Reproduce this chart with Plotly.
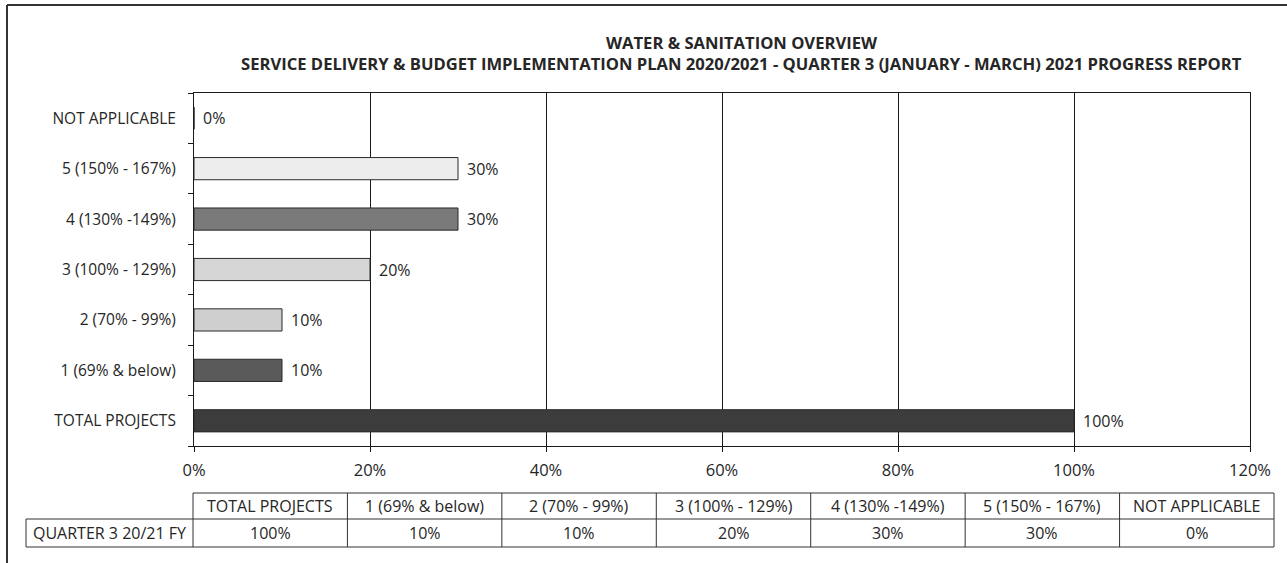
import plotly.graph_objects as go

categories = ["TOTAL PROJECTS", "1 (69% & below)", "2 (70% - 99%)", "3 (100% - 129%)",
              "4 (130% -149%)", "5 (150% - 167%)", "NOT APPLICABLE"]
values = [100, 10, 10, 20, 30, 30, 0]
bar_colors = ["#3c3c3c", "#5a5a5a", "#cfcfcf", "#d6d6d6", "#7a7a7a", "#ededed", "#ededed"]
series_name = "QUARTER 3 20/21 FY"
x_ticks = [0, 20, 40, 60, 80, 100, 120]
title_1 = "WATER & SANITATION OVERVIEW"
title_2 = "SERVICE DELIVERY & BUDGET IMPLEMENTATION PLAN 2020/2021 - QUARTER 3 (JANUARY - MARCH) 2021 PROGRESS REPORT"

W, H = 1287, 563
L, R, T, B = 194, 37, 93, 117
PW, PH = W - L - R, H - T - B
FONT = "'Open Sans', Lato, sans-serif"
TXT = "#262626"


def px(x):
    return (x - L) / PW


def py(y):
    return (H - B - y) / PH


fig = go.Figure()
fig.add_trace(go.Bar(
    y=categories, x=values, orientation="h",
    marker=dict(color=bar_colors, line=dict(color="#2b2b2b", width=1)),
    width=0.44, name=series_name, showlegend=False, hoverinfo="x+y",
))

annotations = []
for c, v in zip(categories, values):
    annotations.append(dict(x=v, y=c, xref="x", yref="y", text=f"{v}%", showarrow=False,
                            xanchor="left", xshift=7, font=dict(size=16, color=TXT, family=FONT)))

annotations.append(dict(x=px(742), y=py(43), xref="paper", yref="paper", text=f"<b>{title_1}</b>",
                        showarrow=False, xanchor="center", yanchor="middle",
                        font=dict(size=16.6, color=TXT, family=FONT)))
annotations.append(dict(x=px(741), y=py(63), xref="paper", yref="paper", text=f"<b>{title_2}</b>",
                        showarrow=False, xanchor="center", yanchor="middle",
                        font=dict(size=16.6, color=TXT, family=FONT)))

shapes = []
# outer frame (top and left edges)
shapes.append(dict(type="line", xref="paper", yref="paper", x0=px(7), x1=px(1287), y0=py(5), y1=py(5),
                   line=dict(color="#333", width=2)))
shapes.append(dict(type="line", xref="paper", yref="paper", x0=px(7), x1=px(7), y0=py(5), y1=py(563),
                   line=dict(color="#333", width=2)))

# data table
t_left, t_right = 193, 1274
label_left = 26
r0, r1, r2 = 493, 519, 547
ncol = len(categories)
cw = (t_right - t_left) / ncol
lc = dict(color="#333", width=1)
shapes.append(dict(type="line", xref="paper", yref="paper", x0=px(t_left), x1=px(t_right), y0=py(r0), y1=py(r0), line=lc))
shapes.append(dict(type="line", xref="paper", yref="paper", x0=px(label_left), x1=px(t_right), y0=py(r1), y1=py(r1), line=lc))
shapes.append(dict(type="line", xref="paper", yref="paper", x0=px(label_left), x1=px(t_right), y0=py(r2), y1=py(r2), line=lc))
shapes.append(dict(type="line", xref="paper", yref="paper", x0=px(label_left), x1=px(label_left), y0=py(r1), y1=py(r2), line=lc))
for i in range(ncol + 1):
    xx = t_left + i * cw
    shapes.append(dict(type="line", xref="paper", yref="paper", x0=px(xx), x1=px(xx), y0=py(r0), y1=py(r2), line=lc))

TF = 16
for i, (c, v) in enumerate(zip(categories, values)):
    cx = t_left + (i + 0.5) * cw
    annotations.append(dict(x=px(cx), y=py((r0 + r1) / 2), xref="paper", yref="paper", text=c,
                            showarrow=False, xanchor="center", yanchor="middle",
                            font=dict(size=TF, color=TXT, family=FONT)))
    annotations.append(dict(x=px(cx), y=py((r1 + r2) / 2), xref="paper", yref="paper", text=f"{v}%",
                            showarrow=False, xanchor="center", yanchor="middle",
                            font=dict(size=TF, color=TXT, family=FONT)))
annotations.append(dict(x=px((label_left + t_left) / 2), y=py((r1 + r2) / 2), xref="paper", yref="paper",
                        text=series_name, showarrow=False, xanchor="center", yanchor="middle",
                        font=dict(size=TF, color=TXT, family=FONT)))

fig.update_layout(
    width=W, height=H,
    margin=dict(l=L, r=R, t=T, b=B, autoexpand=False),
    paper_bgcolor="white", plot_bgcolor="white",
    font=dict(family=FONT, size=15, color=TXT),
    xaxis=dict(range=[0, 120], tickvals=x_ticks, ticktext=[f"{t}%" for t in x_ticks],
               showgrid=True, gridcolor="#1a1a1a", gridwidth=1,
               showline=True, linecolor="#1a1a1a", linewidth=1, mirror=True,
               ticks="outside", ticklen=5, tickcolor="#1a1a1a",
               zeroline=False, tickfont=dict(size=16.5, color=TXT), ticklabelstandoff=4),
    yaxis=dict(type="category", categoryorder="array", categoryarray=categories,
               showline=True, linecolor="#1a1a1a", linewidth=1, mirror=True,
               ticks="outside", ticklen=5, tickcolor="#1a1a1a", tickson="boundaries",
               showgrid=False, tickfont=dict(size=15.5, color=TXT), ticklabelstandoff=14),
    annotations=annotations,
    shapes=shapes,
    bargap=0.56,
)

fig.write_html("out.html", config={"displayModeBar": False},
               post_script="document.body.style.margin='0';")
